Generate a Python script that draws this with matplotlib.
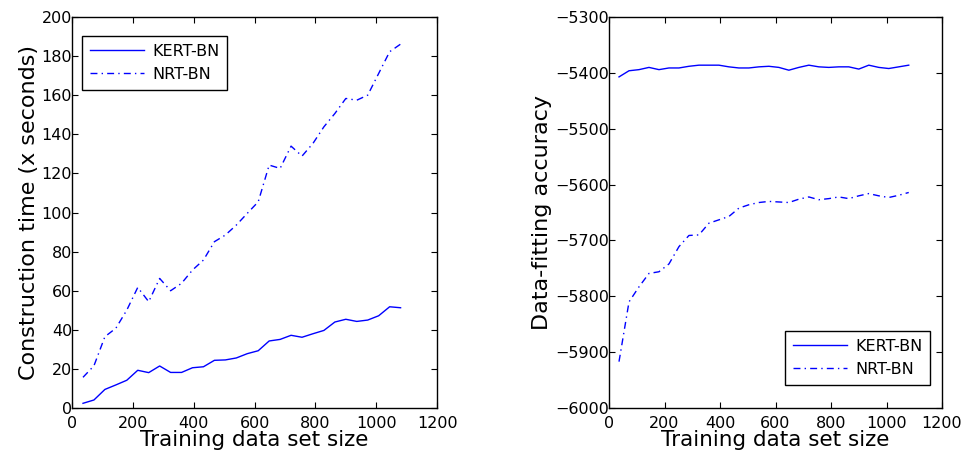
import matplotlib
matplotlib.use('Agg')
import matplotlib.pyplot as plt

# training data set sizes (shared x axis)
sizes = [36 * (i + 1) for i in range(30)]

# left panel: construction time
kert_time = [2.4, 4.1, 9.5, 11.8, 14.2, 19.3, 18.1, 21.5, 18.2, 18.2,
             20.6, 21.1, 24.4, 24.6, 25.6, 27.8, 29.3, 34.3, 35.1, 37.2,
             36.2, 38.0, 39.7, 44.0, 45.4, 44.3, 45.0, 47.2, 51.8, 51.3]
nrt_time = [15.7, 21.6, 36.5, 40.8, 50.1, 61.7, 54.4, 66.3, 60.0, 63.8,
            70.6, 75.7, 85.1, 88.5, 93.6, 99.6, 105.5, 124.3, 122.6, 134.0,
            128.9, 135.4, 143.9, 150.7, 158.4, 157.5, 160.1, 171.2, 182.3, 186.2]

# right panel: data-fitting accuracy
kert_acc = [-5407, -5396, -5394, -5390, -5394, -5391, -5391, -5388, -5386, -5386,
            -5386, -5389, -5391, -5391, -5389, -5388, -5390, -5395, -5390, -5386,
            -5389, -5390, -5389, -5389, -5393, -5386, -5390, -5392, -5389, -5386]
nrt_acc = [-5917, -5810, -5783, -5759, -5756, -5742, -5711, -5691, -5690, -5669,
           -5663, -5657, -5642, -5636, -5632, -5630, -5631, -5632, -5626, -5622,
           -5627, -5625, -5622, -5625, -5620, -5616, -5620, -5623, -5619, -5614]

plt.rcParams['font.family'] = 'DejaVu Sans'

fig = plt.figure(figsize=(9.67, 4.55), dpi=100)
ax1 = fig.add_axes([0.0745, 0.1033, 0.3775, 0.859])
ax2 = fig.add_axes([0.6298, 0.1033, 0.3444, 0.859])

blue = '#0000ff'
dashdot = (5, 3, 1, 3)

ax1.plot(sizes, kert_time, color=blue, lw=1, label='KERT-BN')
ax1.plot(sizes, nrt_time, color=blue, lw=1, ls=(0, dashdot), label='NRT-BN')
ax1.set_xlim(0, 1200)
ax1.set_ylim(0, 200)
ax1.set_yticks(range(0, 201, 20))
ax1.set_xlabel('Training data set size', fontsize=15.5, labelpad=-1)
ax1.set_ylabel('Construction time (x seconds)', fontsize=16, labelpad=2)
leg1 = ax1.legend(loc='upper left', fontsize=11.5, fancybox=False,
                  edgecolor='black', framealpha=1, borderpad=0.5,
                  handlelength=3.4, handletextpad=0.5,
                  bbox_to_anchor=(0.027, 0.952), borderaxespad=0)
leg1.get_frame().set_linewidth(1)

ax2.plot(sizes, kert_acc, color=blue, lw=1, label='KERT-BN')
ax2.plot(sizes, nrt_acc, color=blue, lw=1, ls=(0, dashdot), label='NRT-BN')
ax2.set_xlim(0, 1200)
ax2.set_ylim(-6000, -5300)
ax2.set_yticks(range(-6000, -5299, 100))
ax2.set_xlabel('Training data set size', fontsize=15.5, labelpad=-1)
ax2.set_ylabel('Data-fitting accuracy', fontsize=16, labelpad=2)
leg2 = ax2.legend(loc='lower right', fontsize=11.5, fancybox=False,
                  edgecolor='black', framealpha=1, borderpad=0.5,
                  handlelength=3.4, handletextpad=0.5,
                  bbox_to_anchor=(0.965, 0.06), borderaxespad=0)
leg2.get_frame().set_linewidth(1)

for ax in (ax1, ax2):
    ax.set_xticks(range(0, 1201, 200))
    ax.tick_params(direction='in', top=True, right=True, length=4,
                   labelsize=11.5, width=0.8)
    ax.tick_params(axis='y', pad=0)
    ax.tick_params(axis='x', pad=6)
    for s in ax.spines.values():
        s.set_linewidth(1)

fig.savefig('out.png', dpi=100)
